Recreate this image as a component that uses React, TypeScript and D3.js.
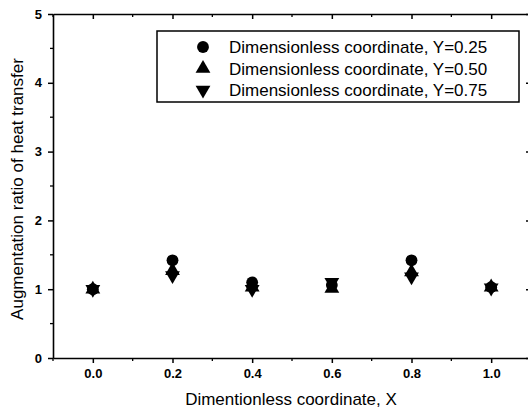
import React, { useRef, useEffect } from 'react'
import * as d3 from 'd3'

// values
const xCats = [0.0, 0.2, 0.4, 0.6, 0.8, 1.0]
const y025 = [1.0, 1.42, 1.1, 1.06, 1.42, 1.03]
const y050 = [1.0, 1.27, 1.03, 1.01, 1.25, 1.03]
const y075 = [1.0, 1.2, 1.0, 1.1, 1.18, 1.02]
const seriesNames = [
  'Dimensionless coordinate, Y=0.25',
  'Dimensionless coordinate, Y=0.50',
  'Dimensionless coordinate, Y=0.75',
]
const xTicks = [0.0, 0.2, 0.4, 0.6, 0.8, 1.0]
const yTicks = [0, 1, 2, 3, 4, 5]

export default function App() {
  const ref = useRef<SVGSVGElement>(null)

  useEffect(() => {
    const svg = d3.select(ref.current)
    svg.selectAll('*').remove()

    const width = 528, height = 411
    const margin = { top: 14, right: -3, bottom: 53, left: 53 }
    const font = 'Liberation Sans, Arial, sans-serif'

    const x = d3.scaleLinear().domain([-0.1, 1.1]).range([margin.left, width - margin.right])
    const y = d3.scaleLinear().domain([0, 5]).range([height - margin.bottom, margin.top])

    const x0 = x.range()[0], x1 = x.range()[1]
    const y0 = y.range()[0], y1 = y.range()[1]

    const minorX = d3.range(-0.1, 1.1001, 0.1).filter(v => !xTicks.some(t => Math.abs(t - v) < 1e-6))
    const minorY = d3.range(0.5, 5, 1)

    // bottom axis
    const bottom = svg.append('g').attr('transform', `translate(0,${y0})`)
      .call(d3.axisBottom(x).tickValues(xTicks).tickFormat(d3.format('.1f')).tickSize(5).tickSizeOuter(0))
    bottom.select('.domain').attr('stroke-width', 1.6)
    bottom.selectAll('line').attr('stroke-width', 1.5)
    bottom.selectAll('text').attr('font-family', font).attr('font-size', 13).attr('font-weight', 'bold').attr('y', 11)
    svg.append('g').selectAll('line').data(minorX).join('line')
      .attr('x1', d => x(d)).attr('x2', d => x(d)).attr('y1', y0).attr('y2', y0 + 3)
      .attr('stroke', '#000').attr('stroke-width', 1.3)

    // left axis
    const left = svg.append('g').attr('transform', `translate(${x0},0)`)
      .call(d3.axisLeft(y).tickValues(yTicks).tickFormat(d3.format('d')).tickSize(5).tickSizeOuter(0))
    left.select('.domain').attr('stroke-width', 1.6)
    left.selectAll('line').attr('stroke-width', 1.5)
    left.selectAll('text').attr('font-family', font).attr('font-size', 13).attr('font-weight', 'bold').attr('x', -11)
    svg.append('g').selectAll('line').data(minorY).join('line')
      .attr('x1', x0 - 3).attr('x2', x0).attr('y1', d => y(d)).attr('y2', d => y(d))
      .attr('stroke', '#000').attr('stroke-width', 1.3)

    // top and right mirror axes, ticks inward, no labels
    const top = svg.append('g').attr('transform', `translate(0,${y1})`)
      .call(d3.axisTop(x).tickValues(xTicks).tickFormat(() => '').tickSize(-5).tickSizeOuter(0))
    top.select('.domain').attr('stroke-width', 1.6)
    top.selectAll('line').attr('stroke-width', 1.5)
    svg.append('g').selectAll('line').data(minorX).join('line')
      .attr('x1', d => x(d)).attr('x2', d => x(d)).attr('y1', y1).attr('y2', y1 + 3)
      .attr('stroke', '#000').attr('stroke-width', 1.3)

    const right = svg.append('g').attr('transform', `translate(${x1},0)`)
      .call(d3.axisRight(y).tickValues(yTicks).tickFormat(() => '').tickSize(-5).tickSizeOuter(0))
    right.select('.domain').attr('stroke-width', 1.6)
    right.selectAll('line').attr('stroke-width', 1.5)
    svg.append('g').selectAll('line').data(minorY).join('line')
      .attr('x1', x1 - 3).attr('x2', x1).attr('y1', d => y(d)).attr('y2', d => y(d))
      .attr('stroke', '#000').attr('stroke-width', 1.3)

    // axis titles
    svg.append('text').attr('x', 291).attr('y', 405)
      .attr('text-anchor', 'middle').attr('font-family', font).attr('font-size', 17)
      .text('Dimentionless coordinate, X')
    svg.append('text').attr('transform', `translate(23,189) rotate(-90)`)
      .attr('text-anchor', 'middle').attr('font-family', font).attr('font-size', 17)
      .text('Augmentation ratio of heat transfer')

    // markers
    const circle = d3.symbol().type(d3.symbolCircle).size(110)
    const tri = d3.symbol().type(d3.symbolTriangle).size(95)
    const shapes = [
      { vals: y025, path: circle(), rot: 0 },
      { vals: y050, path: tri(), rot: 0 },
      { vals: y075, path: tri(), rot: 180 },
    ]
    shapes.forEach(s => {
      svg.append('g').selectAll('path').data(xCats).join('path')
        .attr('d', s.path as string)
        .attr('transform', (d, i) => `translate(${x(d)},${y(s.vals[i])}) rotate(${s.rot})`)
        .attr('fill', '#000')
    })

    // legend
    const lg = svg.append('g')
    lg.append('rect').attr('x', 157).attr('y', 31).attr('width', 362).attr('height', 71)
      .attr('fill', '#fff').attr('stroke', '#000').attr('stroke-width', 1.5)
    shapes.forEach((s, i) => {
      const cy = 47 + i * 21.5
      lg.append('path').attr('d', s.path as string)
        .attr('transform', `translate(203,${cy}) rotate(${s.rot})`).attr('fill', '#000')
      lg.append('text').attr('x', 229).attr('y', cy + 6)
        .attr('font-family', font).attr('font-size', 17).text(seriesNames[i])
    })
  }, [])

  return (
    <svg ref={ref} width={528} height={411}
      style={{ position: 'absolute', left: 0, top: 0, background: '#fff', overflow: 'hidden' }} />
  )
}
